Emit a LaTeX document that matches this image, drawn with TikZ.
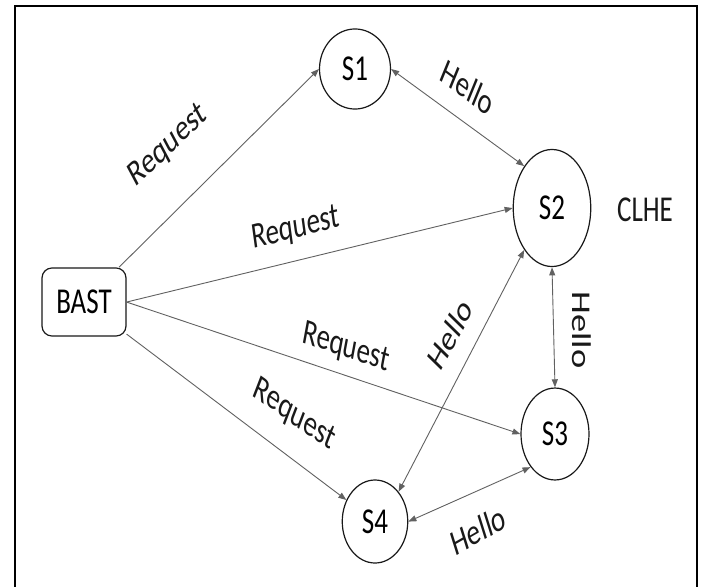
\documentclass[tikz,border=0pt]{standalone}
\usepackage{fontspec}
\setmainfont{Carlito}
\usetikzlibrary{shapes.geometric,arrows.meta}
\tikzset{
  state/.style={ellipse, draw=black!90, line width=1.2pt, inner sep=0pt},
  bast/.style={rectangle, rounded corners=10pt, draw=black!90, line width=1.2pt,
    minimum width=84pt, minimum height=50.4pt, inner sep=0pt},
  lbl/.style={inner sep=0pt, text=black!90},
  conn/.style={draw=black!62, line width=0.9pt, -{Triangle[length=8pt,width=6pt]}},
  both/.style={draw=black!62, line width=0.9pt,
    {Triangle[length=8pt,width=6pt]}-{Triangle[length=8pt,width=6pt]}},
}
\begin{document}
\begin{tikzpicture}[x=1pt,y=-1pt]
\useasboundingbox (0,0) rectangle (701,586);
\fill[white] (0,0) rectangle (701,586);
\draw[line width=2.6pt] (15,600) -- (15,6) -- (697,6) -- (697,600);
\begin{scope}[y=-0.740741pt, yscale=1.35, transform shape, font=\fontsize{27}{32}\selectfont]
  \node[bast] (BAST) at (84,302) {BAST};
  \node[state, minimum width=71pt, minimum height=59.3pt] (S1) at (355,69) {S1};
  \node[state, minimum width=77.5pt, minimum height=86.7pt] (S2) at (552,208) {S2};
  \node[state, minimum width=68pt, minimum height=68.1pt] (S3) at (555,434) {S3};
  \node[state, minimum width=65.5pt, minimum height=61.5pt] (S4) at (375,521.5) {S4};
  \node[lbl] (CLHE) at (645,210) {CLHE};

  \draw[conn] (BAST) -- (S1.west);
  \draw[conn] (BAST.east) -- (S2.west);
  \draw[conn] (BAST.east) -- (S3.west);
  \draw[conn] (BAST) -- (S4);
  \draw[both] (S1.east) -- (S2.north west);
  \draw[both] (S2.south) -- (S3.north);
  \draw[both] (S2.south west) -- (S4.north east);
  \draw[both] (S4.east) -- (S3.south west);

  \node[lbl, rotate=35.6] (r1) at (168,146) {Request};
  \node[lbl, rotate=10.5] (r2) at (296,229) {Request};
  \node[lbl, rotate=-14] (r3) at (346,348) {Request};
  \node[lbl, rotate=-27.5] (r4) at (294,415) {Request};
  \node[lbl, rotate=-29] (h1) at (468,87) {Hello};
  \node[lbl, rotate=54] (h2) at (450,334) {Hello};
  \node[lbl, rotate=-90] (h3) at (582,330) {Hello};
  \node[lbl, rotate=23] (h4) at (478,530) {Hello};
\end{scope}
\end{tikzpicture}
\end{document}
